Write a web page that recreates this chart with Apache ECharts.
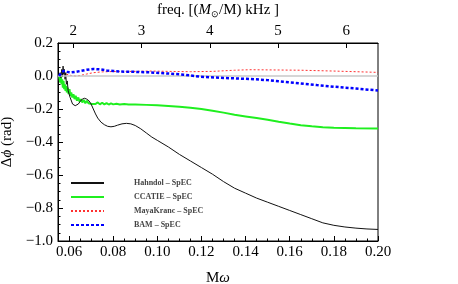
<!DOCTYPE html>
<html><head><meta charset="utf-8">
<script src="https://cdn.jsdelivr.net/npm/echarts@6/dist/echarts.min.js"></script>
<style>html,body{margin:0;padding:0;background:#fff}#c{width:458px;height:284px}</style>
</head><body><div id="c"></div>
<script>
// Mω values and Δφ values for each comparison
const hahndolX = [0.0555,0.0560,0.0563,0.0567,0.0570,0.0573,0.0576,0.0579,0.0582,0.0585,0.0588,0.0592,0.0596,0.0600,0.0605,0.0610,0.0616,0.0622,0.0628,0.0635,0.0642,0.0650,0.0660,0.0670,0.0680,0.0690,0.0700,0.0710,0.0720,0.0730,0.0745,0.0760,0.0775,0.0790,0.0805,0.0820,0.0840,0.0860,0.0880,0.0900,0.0925,0.0950,0.0975,0.1000,0.1050,0.1100,0.1150,0.1200,0.1250,0.1300,0.1350,0.1400,0.1450,0.1500,0.1550,0.1600,0.1650,0.1700,0.1750,0.1800,0.1850,0.1900,0.1950,0.2000];
const hahndolY = [0.00,0.02,-0.01,0.04,0.00,0.06,0.01,0.04,-0.02,0.02,-0.05,-0.03,-0.09,-0.08,-0.13,-0.14,-0.17,-0.165,-0.18,-0.175,-0.17,-0.155,-0.14,-0.135,-0.14,-0.15,-0.17,-0.20,-0.23,-0.255,-0.28,-0.295,-0.305,-0.308,-0.305,-0.298,-0.29,-0.287,-0.29,-0.30,-0.32,-0.345,-0.37,-0.39,-0.43,-0.475,-0.515,-0.555,-0.595,-0.64,-0.68,-0.71,-0.74,-0.765,-0.79,-0.815,-0.84,-0.865,-0.89,-0.905,-0.915,-0.922,-0.927,-0.93];
const ccatieX = [0.0555,0.0560,0.0563,0.0566,0.0569,0.0572,0.0575,0.0578,0.0581,0.0584,0.0587,0.0590,0.0594,0.0598,0.0602,0.0606,0.0610,0.0615,0.0620,0.0625,0.0630,0.0636,0.0642,0.0648,0.0654,0.0660,0.0667,0.0674,0.0681,0.0688,0.0695,0.0703,0.0711,0.0720,0.0730,0.0740,0.0750,0.0760,0.0770,0.0780,0.0790,0.0800,0.0815,0.0830,0.0850,0.0870,0.090,0.095,0.100,0.105,0.110,0.115,0.120,0.125,0.130,0.135,0.140,0.145,0.150,0.155,0.160,0.165,0.170,0.175,0.180,0.190,0.200];
const ccatieY = [0.00,-0.04,0.01,-0.05,-0.02,-0.07,-0.03,-0.08,-0.05,-0.09,-0.06,-0.10,-0.07,-0.11,-0.08,-0.12,-0.10,-0.13,-0.11,-0.14,-0.12,-0.15,-0.13,-0.155,-0.14,-0.16,-0.145,-0.165,-0.15,-0.165,-0.155,-0.17,-0.158,-0.17,-0.16,-0.172,-0.162,-0.172,-0.164,-0.173,-0.166,-0.172,-0.168,-0.173,-0.17,-0.173,-0.172,-0.175,-0.178,-0.182,-0.187,-0.193,-0.200,-0.210,-0.222,-0.235,-0.245,-0.255,-0.265,-0.277,-0.288,-0.298,-0.305,-0.31,-0.313,-0.316,-0.318];
const mayaX = [0.0555,0.0570,0.0590,0.0610,0.0630,0.0650,0.0680,0.0710,0.0750,0.0800,0.0900,0.0967,0.1050,0.1150,0.1250,0.1350,0.1420,0.1500,0.1650,0.1800,0.1900,0.2000];
const mayaY = [0.00,0.015,0.01,0.003,0.0,0.003,0.012,0.02,0.025,0.027,0.028,0.03,0.028,0.026,0.028,0.035,0.038,0.037,0.035,0.03,0.026,0.022];
const bamX = [0.0555,0.0565,0.0575,0.0590,0.0610,0.0630,0.0650,0.0680,0.0710,0.0740,0.0770,0.0800,0.0850,0.0900,0.0967,0.1050,0.1120,0.1193,0.1300,0.1420,0.1500,0.1570,0.1650,0.1723,0.1800,0.1900,0.2000];
const bamY = [0.00,0.02,0.03,0.025,0.022,0.025,0.03,0.038,0.043,0.04,0.034,0.03,0.026,0.025,0.022,0.015,0.008,-0.004,-0.012,-0.018,-0.025,-0.035,-0.045,-0.055,-0.065,-0.076,-0.088];
const seriesNames = ['Hahndol – SpEC','CCATIE – SpEC','MayaKranc – SpEC','BAM – SpEC'];
const xTicks = [0.06,0.08,0.10,0.12,0.14,0.16,0.18,0.20];
const xMinorTicks = [0.055,0.065,0.07,0.075,0.085,0.09,0.095,0.105,0.11,0.115,0.125,0.13,0.135,0.145,0.15,0.155,0.165,0.17,0.175,0.185,0.19,0.195];
const freqTicks = [2,3,4,5,6];
const xMin = 0.055, xMax = 0.2;
const kHzPerMw = 32.316; // orbital frequency (kHz) per unit Mω for one solar mass

const zip = (a,b) => a.map((v,i)=>[v,b[i]]);
const font = 'Liberation Serif';
const freqTickMw = freqTicks.map(f => f / kHzPerMw);
const gridBox = {left:58,right:80,top:43,bottom:43,containLabel:false,outerBoundsMode:'none'};
const chart = echarts.init(document.getElementById('c'), null, {renderer:'canvas'});
chart.setOption({
  animation:false,
  backgroundColor:'#fff',
  grid:[Object.assign({show:true,borderColor:'#000',borderWidth:1,backgroundColor:'transparent'},gridBox),
        Object.assign({show:false},gridBox)],
  legend:{
    orient:'vertical', left:70, top:179, padding:0, itemWidth:33, itemHeight:8, itemGap:6,
    data:seriesNames,
    itemStyle:{opacity:0},
    textStyle:{fontFamily:font,fontSize:8,fontWeight:'bold',color:'#444',padding:[0,0,0,25]}
  },
  xAxis:[
    {type:'value',gridIndex:0,min:xMin,max:xMax,position:'bottom',
     name:'{a|M}{i|ω}',nameLocation:'middle',nameGap:30,
     nameTextStyle:{rich:{a:{fontFamily:font,fontSize:15,color:'#000'},i:{fontFamily:font,fontSize:15,fontStyle:'italic',color:'#000'}}},
     axisLine:{onZero:false,lineStyle:{color:'#000',width:1}},
     axisTick:{inside:true,length:5,customValues:xTicks,lineStyle:{color:'#000'}},
     axisLabel:{customValues:xTicks,margin:4,fontFamily:font,fontSize:15,color:'#000',formatter:v=>v.toFixed(2)},
     splitLine:{show:false}},
    {type:'value',gridIndex:1,min:xMin,max:xMax,position:'top',
     name:'freq. [({i|M}{sub|⊙}/M) kHz ]',nameLocation:'middle',nameGap:24,
     nameTextStyle:{fontFamily:font,fontSize:15,color:'#000',rich:{i:{fontFamily:font,fontSize:15,fontStyle:'italic',color:'#000'},sub:{fontFamily:font,fontSize:9,color:'#000',verticalAlign:'bottom',padding:[8,0,0,0]}}},
     axisLine:{onZero:false,lineStyle:{color:'#000',width:1}},
     axisTick:{inside:true,length:5,customValues:freqTickMw,lineStyle:{color:'#000'}},
     axisLabel:{customValues:freqTickMw,margin:4,fontFamily:font,fontSize:15,color:'#000',formatter:v=>String(Math.round(v*kHzPerMw))},
     splitLine:{show:false}},
    {type:'value',gridIndex:1,min:xMin,max:xMax,position:'bottom',
     axisLine:{show:false,onZero:false},
     axisTick:{inside:true,length:2.5,customValues:xMinorTicks,lineStyle:{color:'#000'}},
     axisLabel:{show:false},splitLine:{show:false}}
  ],
  yAxis:[{type:'value',gridIndex:0,min:-1.0,max:0.2,interval:0.2,
     name:'{d|Δ}{i|ϕ}{d| (rad)}',nameLocation:'middle',nameGap:35,nameRotate:90,
     nameTextStyle:{rich:{d:{fontFamily:font,fontSize:15,color:'#000'},i:{fontFamily:font,fontSize:15,fontStyle:'italic',color:'#000'}}},
     axisLine:{show:true,onZero:false,lineStyle:{color:'#000',width:1}},
     axisTick:{inside:true,length:5,lineStyle:{color:'#000'}},
     minorTick:{show:true,splitNumber:4,length:2.5,lineStyle:{color:'#000'}},
     axisLabel:{margin:5,fontFamily:font,fontSize:15,color:'#000',formatter:v=>(v<0?'−':'')+Math.abs(v).toFixed(1)},
     splitLine:{show:false}},
    {type:'value',gridIndex:1,min:-1.0,max:0.2,show:false}],
  series:[
    {name:seriesNames[0],type:'line',data:zip(hahndolX,hahndolY),symbol:'none',z:4,
     lineStyle:{color:'#111',width:1},itemStyle:{color:'#111'},
     markLine:{silent:true,symbol:'none',label:{show:false},data:[{yAxis:0}],lineStyle:{color:'#c8c8c8',width:1.5,type:'solid'}}},
    {name:seriesNames[1],type:'line',data:zip(ccatieX,ccatieY),symbol:'none',z:3,
     lineStyle:{color:'#1fef1f',width:2},itemStyle:{color:'#1fef1f'}},
    {name:seriesNames[2],type:'line',data:zip(mayaX,mayaY),symbol:'none',z:3,
     lineStyle:{color:'#ff3030',width:1,type:[2,2]},itemStyle:{color:'#ff3030'}},
    {name:seriesNames[3],type:'line',data:zip(bamX,bamY),symbol:'none',z:5,
     lineStyle:{color:'#0000ff',width:2.5,type:[3,2]},itemStyle:{color:'#0000ff'}}
  ]
});
</script></body></html>
